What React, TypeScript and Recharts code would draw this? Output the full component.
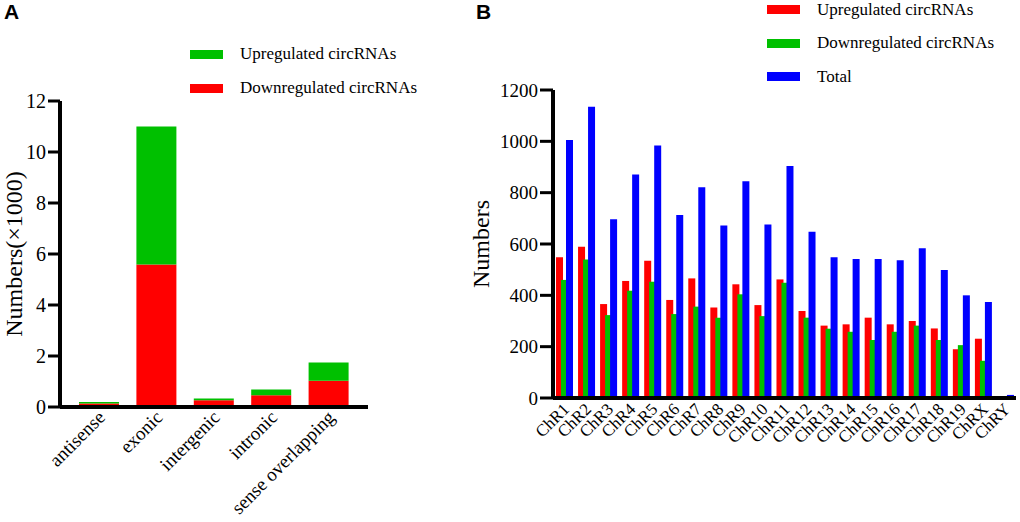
import React from 'react';
import { BarChart, Bar, XAxis, YAxis } from 'recharts';

const categoriesA = ['antisense', 'exonic', 'intergenic', 'intronic', 'sense overlapping'];
const downregulatedA = [0.14, 5.59, 0.26, 0.46, 1.03];
const upregulatedA = [0.06, 5.41, 0.07, 0.23, 0.72];
const ticksA = [0, 2, 4, 6, 8, 10, 12];

const categoriesB = ['ChR1', 'ChR2', 'ChR3', 'ChR4', 'ChR5', 'ChR6', 'ChR7', 'ChR8', 'ChR9', 'ChR10', 'ChR11', 'ChR12', 'ChR13', 'ChR14', 'ChR15', 'ChR16', 'ChR17', 'ChR18', 'ChR19', 'ChRX', 'ChRY'];
const upregulatedB = [548, 589, 366, 456, 535, 382, 466, 353, 443, 362, 462, 339, 282, 287, 313, 287, 300, 271, 190, 231, 0];
const downregulatedB = [460, 540, 323, 418, 453, 327, 356, 313, 404, 319, 449, 313, 270, 258, 226, 258, 282, 226, 206, 145, 0];
const totalB = [1005, 1135, 696, 871, 984, 713, 821, 672, 844, 676, 904, 648, 548, 542, 542, 537, 583, 499, 400, 374, 12];
const ticksB = [0, 200, 400, 600, 800, 1000, 1200];

const dataA = categoriesA.map((c, i) => ({ name: c, down: downregulatedA[i], up: upregulatedA[i] }));
const dataB = categoriesB.map((c, i) => ({ name: c, up: upregulatedB[i], down: downregulatedB[i], total: totalB[i] }));

const RED = '#ff0000';
const GREEN = '#00c000';
const BLUE = '#0000ff';
const SERIF = '"Liberation Serif", "Times New Roman", serif';

const TickA = (props: any) => {
  const { x, y, payload } = props;
  return (
    <g transform={`translate(${x + 4},${y})`}>
      <text x={0} y={0} dy={5} textAnchor="end" transform="rotate(-45)" fontFamily={SERIF} fontSize={19} fill="#000">
        {payload.value}
      </text>
    </g>
  );
};

const TickB = (props: any) => {
  const { x, y, payload } = props;
  return (
    <g transform={`translate(${x + 2},${y})`}>
      <text x={0} y={0} dy={6} textAnchor="end" transform="rotate(-45)" fontFamily={SERIF} fontSize={17} fill="#000">
        {payload.value}
      </text>
    </g>
  );
};

const LegendBlock = ({ items, left, top, rowGap }: { items: { color: string; label: string }[]; left: number; top: number; rowGap: number }) => (
  <div style={{ position: 'absolute', left, top, fontFamily: SERIF, fontSize: 17, color: '#000' }}>
    {items.map((it) => (
      <div key={it.label} style={{ display: 'flex', alignItems: 'center', height: rowGap, whiteSpace: 'nowrap' }}>
        <div style={{ width: 33, height: 9, background: it.color, marginRight: 17 }} />
        <span>{it.label}</span>
      </div>
    ))}
  </div>
);

const legendItemsA = [
  { color: GREEN, label: 'Upregulated circRNAs' },
  { color: RED, label: 'Downregulated circRNAs' },
];
const legendItemsB = [
  { color: RED, label: 'Upregulated circRNAs' },
  { color: GREEN, label: 'Downregulated circRNAs' },
  { color: BLUE, label: 'Total' },
];

export default function App() {
  return (
    <div style={{ position: 'absolute', left: 0, top: 0, width: 1020, height: 522, background: '#fff' }}>
      <div style={{ position: 'absolute', left: 4, top: 0, fontFamily: '"Liberation Sans", Arial, sans-serif', fontWeight: 'bold', fontSize: 21 }}>A</div>
      <div style={{ position: 'absolute', left: 476, top: 0, fontFamily: '"Liberation Sans", Arial, sans-serif', fontWeight: 'bold', fontSize: 21 }}>B</div>

      <div style={{ position: 'absolute', left: 0, top: 0 }}>
        <BarChart width={420} height={522} data={dataA} margin={{ top: 101, right: 52, bottom: 15, left: 0 }}>
          <XAxis
            dataKey="name"
            axisLine={{ stroke: '#000', strokeWidth: 4 }}
            tickLine={false}
            tick={<TickA />}
            interval={0}
            height={100}
            padding={{ left: 10, right: 11 }}
          />
          <YAxis
            domain={[0, 12]}
            ticks={ticksA}
            width={60}
            axisLine={{ stroke: '#000', strokeWidth: 4 }}
            tickLine={{ stroke: '#000', strokeWidth: 3 }}
            tickSize={12}
            tickMargin={2}
            tick={{ fill: '#000', fontFamily: SERIF, fontSize: 20 }}
            label={{ value: 'Numbers(×1000)', angle: -90, position: 'insideLeft', offset: 13, textAnchor: 'middle', style: { fontFamily: SERIF, fontSize: 24, fill: '#000' } } as any}
          />
          <Bar dataKey="down" stackId="a" fill={RED} barSize={40} isAnimationActive={false} />
          <Bar dataKey="up" stackId="a" fill={GREEN} barSize={40} isAnimationActive={false} />
        </BarChart>
      </div>
      <LegendBlock items={legendItemsA} left={190} top={37} rowGap={34} />

      <div style={{ position: 'absolute', left: 460, top: 0 }}>
        <BarChart width={560} height={522} data={dataB} margin={{ top: 90, right: 4, bottom: 44, left: 0 }} barGap={-2}>
          <XAxis
            dataKey="name"
            axisLine={{ stroke: '#000', strokeWidth: 4 }}
            tickLine={false}
            tick={<TickB />}
            interval={0}
            height={80}
          />
          <YAxis
            domain={[0, 1200]}
            ticks={ticksB}
            width={93}
            axisLine={{ stroke: '#000', strokeWidth: 4 }}
            tickLine={{ stroke: '#000', strokeWidth: 3 }}
            tickSize={13}
            tickMargin={2}
            tick={{ fill: '#000', fontFamily: SERIF, fontSize: 19 }}
            label={{ value: 'Numbers', angle: -90, position: 'insideLeft', offset: 20, textAnchor: 'middle', style: { fontFamily: SERIF, fontSize: 24, fill: '#000' } } as any}
          />
          <Bar dataKey="up" fill={RED} barSize={7} isAnimationActive={false} />
          <Bar dataKey="down" fill={GREEN} barSize={7} isAnimationActive={false} />
          <Bar dataKey="total" fill={BLUE} barSize={7} isAnimationActive={false} />
        </BarChart>
      </div>
      <LegendBlock items={legendItemsB} left={767} top={-7} rowGap={33.5} />
    </div>
  );
}
